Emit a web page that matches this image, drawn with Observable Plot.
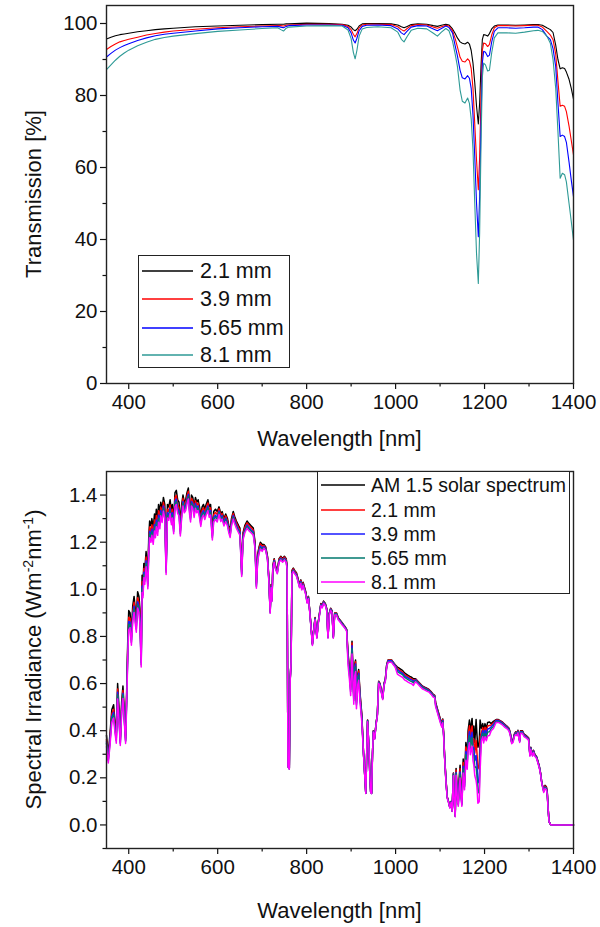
<!DOCTYPE html>
<html><head><meta charset="utf-8">
<script src="https://cdn.jsdelivr.net/npm/d3@7"></script>
<script src="https://cdn.jsdelivr.net/npm/@observablehq/plot@0.6"></script>
<style>
body{margin:0;background:#fff;}
#wrap{position:relative;width:600px;height:927px;font-family:"Liberation Sans",Arial,sans-serif;color:#111;overflow:hidden;}
#top,#bot{position:absolute;left:0;}
#top{top:0;}
#bot{top:455px;}
.legend{position:absolute;background:#fff;border:1px solid #222;box-sizing:border-box;}
.row{position:absolute;left:0;height:26px;display:flex;align-items:center;white-space:nowrap;}
.row svg{display:block;}
</style></head>
<body><div id="wrap"><div id="top"></div><div id="bot"></div></div>
<script>
// ---------- Top panel: transmission [%] ----------
const topLabels = ["2.1 mm", "3.9 mm", "5.65 mm", "8.1 mm"];
const topColors = ["#000000", "#ff0000", "#0000ff", "#2e9a96"];
const transWl = [350,360,370,380,390,400,420,440,460,480,
500,550,600,650,700,735,742,748,754,760,
800,850,880,893,900,905,909,913,918,925,
935,960,990,1005,1013,1019,1026,1035,1050,1070,
1085,1094,1103,1113,1120,1128,1134,1139,1145,1150,
1156,1162,1166,1170,1174,1178,1182,1186,1189,1192,
1195,1198,1202,1207,1211,1216,1222,1230,1250,1270,
1290,1310,1320,1330,1340,1348,1354,1360,1365,1370,
1375,1380,1384,1390,1395,1400];
const t21 = [95.7,96.2,96.6,96.9,97.1,97.3,97.7,98.0,98.3,98.5,
98.7,99.1,99.3,99.5,99.7,99.8,99.8,99.8,99.9,99.9,
100.1,100.0,99.8,99.5,99.0,98.3,98.0,98.4,99.3,99.9,
100.0,100.0,99.9,99.6,99.1,98.8,99.2,99.7,99.9,99.8,
99.4,99.2,99.5,99.8,99.6,98.5,97.2,96.0,94.9,94.5,
94.3,94.8,94.3,92.5,89.0,83.5,77.0,72.1,78.0,88.0,
95.5,96.9,96.8,96.5,97.2,98.5,99.3,99.6,99.6,99.5,
99.6,99.7,99.7,99.5,98.8,98.3,97.5,94.0,90.0,87.4,
87.7,87.5,86.5,84.5,82.0,79.0];
const t39 = [92.8,93.6,94.3,94.9,95.3,95.6,96.2,96.8,97.2,97.6,
97.9,98.4,98.8,99.1,99.3,99.4,99.4,99.3,99.5,99.6,
99.8,99.8,99.7,99.2,98.3,97.0,96.3,97.2,98.8,99.6,
99.8,99.8,99.7,99.1,98.3,97.9,98.6,99.4,99.7,99.6,
99.0,98.7,99.1,99.5,99.3,98.0,95.8,93.5,90.6,89.5,
89.3,90.2,89.6,87.5,82.0,72.0,62.0,53.8,63.0,80.0,
92.5,94.6,94.4,93.6,94.2,96.8,98.8,99.4,99.4,99.3,
99.4,99.5,99.5,99.0,97.8,96.8,95.5,91.5,84.0,77.0,
77.3,77.0,75.5,71.5,67.5,63.5];
const t565 = [90.7,91.7,92.6,93.3,93.9,94.4,95.3,96.0,96.6,97.0,
97.3,97.9,98.5,98.8,99.1,99.2,99.0,98.8,99.2,99.4,
99.6,99.6,99.5,98.8,97.4,95.4,94.6,95.9,98.0,99.2,
99.5,99.6,99.4,98.5,97.4,96.9,97.9,99.0,99.4,99.3,
98.5,98.0,98.6,99.3,98.9,97.4,93.8,91.0,87.0,84.9,
84.6,85.5,84.8,82.0,74.5,63.0,50.0,40.8,52.0,72.0,
89.0,92.3,92.0,90.8,91.2,94.8,97.8,98.8,98.8,98.7,
98.8,99.0,99.0,98.3,96.5,95.5,93.0,88.0,78.0,68.6,
69.0,68.6,67.0,61.5,56.5,51.9];
const t81 = [87.2,88.5,89.8,90.9,91.8,92.6,93.8,94.8,95.6,96.1,
96.5,97.2,97.8,98.2,98.6,98.8,98.3,97.9,98.7,99.0,
99.3,99.4,99.3,98.2,95.8,92.0,90.2,92.5,96.5,98.5,
98.9,99.1,98.8,97.6,95.6,94.9,96.4,98.1,98.7,98.5,
97.3,96.5,97.6,98.6,98.0,95.1,91.5,88.1,81.5,78.4,
77.9,79.3,77.8,73.5,65.0,50.0,36.0,27.8,42.0,66.0,
85.0,89.0,88.5,86.8,87.0,91.8,96.0,97.4,97.4,97.3,
97.6,98.0,98.1,97.8,96.5,94.5,90.0,82.0,70.0,57.0,
58.4,58.0,56.0,50.0,45.0,39.8];
const topXTicks = [400,600,800,1000,1200,1400];
const topXMinor = [500,700,900,1100,1300];
const topYTicks = [0,20,40,60,80,100];
const topYMinor = [10,30,50,70,90];

// ---------- Bottom panel: spectral irradiance ----------
const botLabels = ["AM 1.5 solar spectrum", "2.1 mm", "3.9 mm", "5.65 mm", "8.1 mm"];
const botColors = ["#000000", "#ff0000", "#1a1aff", "#00786e", "#ff00ff"];
const irrWl = [350,354,358,362,366,369,372,375,378,381,
384,387,390,393,396,398,400,403,406,409,
412,414,417,420,423,425,428,430,432,434,
436,439,441,443,445,447,450,452,455,458,
460,462,465,467,470,472,475,478,481,484,
487,490,493,496,498,501,504,507,510,513,
516,519,522,525,528,531,534,537,539,541,
544,547,550,553,556,559,562,565,568,571,
574,578,581,584,588,591,595,599,603,607,
610,614,618,622,625,628,631,635,638,642,
647,650,654,657,661,666,670,675,680,684,
687,690,693,696,700,704,708,712,715,718,
720,722,724,727,730,734,738,742,746,750,
754,756,758,761,763,765,767,770,773,777,
780,784,787,789,792,795,798,801,804,807,
810,813,816,819,823,826,829,832,835,838,
842,845,848,851,854,857,860,863,867,871,
875,879,883,887,890,893,896,899,902,904,
906,908,910,912,915,917,920,924,928,931,
933,935,937,940,942,944,946,948,950,953,
956,959,962,965,968,971,974,977,980,983,
987,991,995,999,1004,1008,1012,1016,1020,1024,
1028,1032,1036,1040,1045,1050,1055,1060,1065,1070,
1075,1080,1084,1088,1090,1093,1096,1099,1102,1104,
1106,1108,1110,1113,1116,1119,1122,1125,1127,1130,
1132,1134,1136,1139,1141,1143,1145,1147,1149,1152,
1155,1158,1161,1163,1166,1168,1170,1172,1174,1176,
1178,1181,1183,1185,1188,1190,1193,1196,1198,1201,
1204,1207,1211,1215,1220,1226,1231,1236,1241,1246,
1250,1255,1258,1261,1264,1267,1270,1273,1275,1279,
1281,1285,1289,1293,1296,1299,1302,1304,1306,1308,
1310,1313,1317,1320,1323,1326,1328,1330,1333,1336,
1339,1341,1343,1345,1348,1350,1400];
const am15 = [.38,.30,.39,.49,.51,.44,.39,.60,.50,.37,
.52,.59,.48,.38,.62,.80,.91,.90,.82,.93,
.97,.93,.88,.99,.97,.92,.72,1.06,1.02,1.11,
1.08,1.16,1.12,1.06,1.22,1.29,1.27,1.30,1.26,1.32,
1.29,1.34,1.30,1.36,1.33,1.37,1.34,1.39,1.36,1.11,
1.36,1.35,1.38,1.33,1.36,1.29,1.41,1.42,1.38,1.37,
1.28,1.36,1.40,1.37,1.38,1.41,1.43,1.36,1.33,1.40,
1.39,1.35,1.39,1.37,1.38,1.35,1.31,1.35,1.36,1.34,
1.36,1.38,1.35,1.36,1.25,1.33,1.34,1.33,1.35,1.32,
1.33,1.30,1.32,1.30,1.27,1.25,1.30,1.33,1.31,1.29,
1.27,1.26,1.08,1.24,1.27,1.29,1.28,1.27,1.26,1.20,
1.03,1.15,1.18,1.20,1.19,1.19,1.18,1.14,1.05,.91,
1.02,.96,1.10,1.13,1.10,1.08,1.13,1.14,1.13,1.14,
1.13,1.10,.25,.24,.62,.70,1.08,1.09,1.08,1.07,
1.05,1.02,1.04,1.01,1.03,1.01,.99,.95,.97,.91,
.84,.77,.83,.88,.80,.86,.90,.94,.93,.95,
.94,.92,.80,.90,.92,.91,.80,.90,.90,.88,
.87,.86,.85,.84,.83,.73,.67,.59,.78,.66,
.55,.68,.70,.53,.64,.66,.56,.47,.30,.20,
.135,.30,.445,.33,.22,.14,.135,.30,.40,.37,
.43,.47,.61,.60,.57,.54,.60,.62,.68,.70,
.70,.70,.69,.68,.67,.665,.66,.655,.645,.64,
.635,.63,.627,.62,.62,.61,.60,.59,.585,.58,
.575,.565,.555,.55,.52,.50,.48,.46,.44,.43,
.45,.39,.30,.20,.12,.10,.076,.10,.06,.22,
.10,.04,.24,.12,.10,.20,.253,.15,.10,.28,
.19,.35,.30,.40,.445,.38,.43,.452,.37,.42,
.35,.447,.38,.33,.35,.445,.41,.43,.40,.43,
.41,.435,.437,.43,.44,.447,.447,.442,.435,.426,
.42,.41,.39,.355,.36,.385,.395,.39,.402,.36,
.40,.40,.385,.38,.375,.37,.30,.33,.31,.30,
.317,.30,.29,.27,.25,.22,.19,.17,.15,.168,
.162,.14,.07,.015,.003,0,0];
const irr21 = [.363,.287,.373,.471,.491,.423,.375,.577,.481,.358,
.503,.571,.465,.368,.600,.774,.881,.877,.799,.906,
.945,.906,.857,.964,.945,.896,.701,1.032,1.000,1.088,
1.058,1.137,1.098,1.039,1.196,1.264,1.245,1.274,1.235,1.294,
1.264,1.313,1.274,1.333,1.303,1.349,1.320,1.369,1.340,1.093,
1.340,1.330,1.359,1.310,1.340,1.271,1.389,1.399,1.359,1.349,
1.261,1.340,1.386,1.356,1.366,1.396,1.416,1.346,1.317,1.386,
1.376,1.337,1.376,1.356,1.366,1.337,1.297,1.337,1.346,1.327,
1.346,1.366,1.337,1.346,1.238,1.317,1.327,1.317,1.342,1.312,
1.322,1.292,1.312,1.292,1.262,1.243,1.292,1.322,1.302,1.282,
1.262,1.252,1.074,1.233,1.262,1.282,1.272,1.262,1.252,1.193,
1.024,1.143,1.173,1.193,1.183,1.186,1.176,1.137,1.047,.907,
1.017,.957,1.097,1.127,1.097,1.077,1.127,1.137,1.127,1.137,
1.127,1.097,.249,.239,.618,.698,1.077,1.087,1.077,1.067,
1.047,1.017,1.037,1.007,1.027,1.007,.987,.948,.968,.908,
.838,.768,.828,.878,.798,.858,.898,.938,.928,.948,
.938,.918,.798,.898,.918,.908,.798,.898,.898,.878,
.868,.858,.848,.838,.828,.723,.663,.584,.772,.653,
.545,.673,.693,.525,.634,.653,.554,.465,.299,.200,
.135,.299,.444,.329,.220,.140,.135,.299,.399,.369,
.429,.469,.609,.599,.569,.539,.599,.619,.679,.699,
.699,.699,.689,.679,.663,.658,.653,.648,.639,.634,
.629,.624,.621,.614,.618,.608,.598,.588,.583,.578,
.573,.563,.553,.548,.517,.497,.477,.457,.437,.427,
.447,.388,.298,.198,.119,.099,.075,.099,.059,.218,
.097,.039,.233,.116,.095,.189,.239,.142,.095,.265,
.180,.331,.284,.378,.421,.359,.400,.420,.344,.365,
.305,.358,.304,.238,.252,.374,.394,.413,.384,.415,
.396,.420,.422,.424,.433,.445,.445,.440,.433,.424,
.418,.408,.388,.353,.358,.383,.393,.388,.400,.358,
.398,.398,.383,.378,.373,.368,.299,.328,.308,.299,
.315,.299,.289,.269,.249,.219,.189,.169,.148,.165,
.160,.138,.069,.015,.003,0,0];
const irr39 = [.353,.279,.363,.460,.478,.413,.366,.563,.469,.351,
.493,.559,.455,.360,.588,.758,.863,.861,.785,.890,
.928,.890,.842,.947,.928,.880,.689,1.014,.985,1.072,
1.043,1.121,1.082,1.024,1.179,1.246,1.227,1.256,1.217,1.275,
1.246,1.294,1.256,1.314,1.285,1.334,1.305,1.354,1.325,1.081,
1.325,1.315,1.344,1.295,1.325,1.256,1.373,1.383,1.344,1.334,
1.247,1.325,1.373,1.344,1.354,1.383,1.403,1.334,1.305,1.373,
1.364,1.324,1.364,1.344,1.354,1.324,1.285,1.324,1.334,1.315,
1.334,1.354,1.324,1.334,1.226,1.305,1.315,1.305,1.332,1.303,
1.313,1.283,1.303,1.283,1.253,1.234,1.283,1.313,1.293,1.273,
1.253,1.244,1.066,1.224,1.253,1.273,1.263,1.253,1.244,1.184,
1.017,1.135,1.165,1.184,1.175,1.182,1.172,1.132,1.043,.904,
1.013,.953,1.092,1.122,1.092,1.072,1.122,1.132,1.122,1.132,
1.122,1.092,.248,.238,.616,.695,1.072,1.082,1.072,1.063,
1.043,1.013,1.033,1.003,1.023,1.003,.983,.946,.966,.906,
.837,.767,.827,.876,.797,.857,.896,.936,.926,.946,
.936,.916,.797,.896,.916,.906,.797,.896,.896,.876,
.867,.857,.847,.837,.827,.712,.653,.575,.761,.644,
.536,.663,.683,.517,.624,.644,.546,.458,.299,.199,
.134,.299,.443,.328,.219,.139,.134,.299,.398,.368,
.428,.468,.607,.597,.567,.537,.597,.617,.677,.697,
.697,.697,.687,.677,.658,.653,.648,.643,.633,.628,
.624,.619,.616,.609,.616,.606,.596,.586,.581,.576,
.571,.561,.551,.546,.512,.493,.473,.453,.433,.424,
.443,.384,.296,.196,.118,.098,.074,.098,.059,.216,
.093,.037,.223,.112,.089,.178,.225,.134,.089,.249,
.169,.312,.267,.356,.396,.338,.374,.393,.322,.328,
.273,.295,.251,.178,.189,.320,.381,.400,.372,.402,
.383,.407,.409,.417,.427,.443,.443,.438,.431,.422,
.416,.406,.386,.351,.356,.381,.391,.386,.398,.356,
.396,.396,.381,.376,.371,.366,.297,.327,.307,.297,
.314,.297,.287,.267,.248,.218,.188,.168,.144,.161,
.156,.134,.067,.014,.003,0,0];
const irr565 = [.346,.273,.355,.451,.469,.405,.359,.552,.460,.346,
.486,.552,.449,.355,.580,.748,.851,.851,.775,.879,
.917,.879,.832,.936,.917,.869,.680,1.002,.976,1.062,
1.034,1.110,1.072,1.014,1.168,1.235,1.215,1.244,1.206,1.263,
1.235,1.282,1.244,1.302,1.273,1.323,1.294,1.343,1.314,1.072,
1.314,1.304,1.333,1.285,1.314,1.246,1.362,1.372,1.333,1.323,
1.236,1.314,1.365,1.336,1.346,1.375,1.394,1.326,1.297,1.365,
1.355,1.316,1.355,1.336,1.346,1.316,1.277,1.316,1.326,1.307,
1.326,1.346,1.316,1.326,1.219,1.297,1.307,1.297,1.326,1.296,
1.306,1.277,1.296,1.277,1.247,1.228,1.277,1.306,1.286,1.267,
1.247,1.237,1.061,1.218,1.247,1.267,1.257,1.247,1.237,1.178,
1.011,1.129,1.159,1.178,1.169,1.178,1.168,1.129,1.040,.901,
1.010,.950,1.089,1.119,1.089,1.069,1.119,1.129,1.119,1.129,
1.119,1.089,.248,.238,.614,.693,1.069,1.079,1.069,1.059,
1.040,1.010,1.030,1.000,1.020,1.000,.980,.944,.964,.905,
.835,.765,.825,.875,.795,.855,.895,.934,.924,.944,
.934,.914,.795,.895,.914,.905,.795,.895,.895,.875,
.865,.855,.845,.835,.825,.701,.643,.566,.749,.634,
.528,.653,.672,.509,.614,.634,.538,.451,.297,.198,
.134,.297,.441,.327,.218,.139,.134,.297,.396,.366,
.426,.465,.604,.594,.564,.535,.594,.614,.673,.693,
.693,.693,.683,.673,.651,.646,.642,.637,.627,.622,
.617,.612,.609,.603,.613,.603,.593,.583,.578,.573,
.568,.558,.548,.543,.507,.488,.468,.449,.429,.419,
.439,.380,.293,.194,.116,.097,.074,.097,.058,.213,
.091,.036,.218,.109,.085,.170,.215,.128,.085,.238,
.162,.298,.255,.340,.378,.323,.353,.371,.303,.294,
.245,.246,.209,.135,.144,.276,.371,.389,.362,.389,
.371,.394,.395,.409,.418,.439,.439,.434,.427,.418,
.412,.403,.383,.349,.354,.378,.388,.383,.395,.354,
.393,.393,.378,.373,.368,.363,.295,.324,.304,.295,
.311,.295,.285,.265,.246,.216,.187,.167,.142,.159,
.153,.132,.066,.014,.003,0,0];
const irr81 = [.333,.263,.341,.436,.454,.392,.347,.534,.445,.337,
.473,.537,.437,.346,.564,.728,.828,.837,.763,.865,
.902,.865,.818,.921,.902,.856,.670,.986,.964,1.049,
1.021,1.096,1.058,1.002,1.153,1.219,1.200,1.229,1.191,1.247,
1.219,1.266,1.229,1.285,1.257,1.312,1.284,1.332,1.303,1.063,
1.303,1.293,1.322,1.274,1.303,1.236,1.351,1.360,1.322,1.312,
1.226,1.303,1.354,1.325,1.334,1.363,1.383,1.315,1.286,1.354,
1.344,1.305,1.344,1.325,1.334,1.305,1.267,1.305,1.315,1.296,
1.315,1.334,1.305,1.315,1.209,1.286,1.296,1.286,1.318,1.288,
1.298,1.269,1.288,1.269,1.240,1.220,1.269,1.298,1.279,1.259,
1.240,1.230,1.054,1.210,1.240,1.259,1.249,1.240,1.230,1.171,
1.005,1.122,1.152,1.171,1.161,1.175,1.165,1.125,1.036,.898,
1.007,.948,1.086,1.115,1.086,1.066,1.115,1.125,1.115,1.125,
1.115,1.086,.247,.237,.612,.691,1.066,1.076,1.066,1.056,
1.036,1.007,1.026,.997,1.017,.997,.977,.941,.960,.901,
.832,.762,.822,.871,.792,.851,.891,.931,.921,.941,
.931,.911,.792,.891,.911,.901,.792,.891,.891,.871,
.861,.851,.842,.832,.822,.679,.623,.549,.725,.614,
.512,.632,.651,.493,.595,.614,.521,.437,.296,.197,
.133,.296,.438,.325,.217,.138,.133,.296,.394,.364,
.424,.463,.601,.591,.561,.532,.591,.611,.670,.690,
.690,.690,.680,.670,.640,.635,.630,.626,.616,.611,
.606,.602,.599,.592,.608,.598,.588,.578,.573,.568,
.564,.554,.544,.539,.502,.483,.463,.444,.425,.415,
.434,.376,.290,.190,.114,.095,.072,.095,.057,.209,
.088,.035,.211,.106,.079,.157,.199,.118,.079,.220,
.149,.275,.236,.314,.349,.298,.318,.334,.274,.252,
.210,.188,.160,.092,.098,.231,.357,.374,.348,.374,
.357,.378,.380,.400,.409,.435,.435,.430,.423,.414,
.409,.399,.379,.345,.350,.375,.384,.379,.391,.350,
.389,.389,.375,.370,.365,.360,.292,.321,.302,.292,
.308,.292,.282,.263,.243,.214,.185,.165,.138,.155,
.149,.129,.064,.014,.003,0,0];
const botXTicks = [400,600,800,1000,1200,1400];
const botXMinor = [500,700,900,1100,1300];
const botYTicks = [0,0.2,0.4,0.6,0.8,1.0,1.2,1.4];
const botYMinor = [-0.1,0.1,0.3,0.5,0.7,0.9,1.1,1.3];

// ---------- build tables ----------
const topSeries = [t21, t39, t565, t81];
const topRows = [];
topLabels.forEach((lab, j) => transWl.forEach((w, i) => topRows.push({wl: w, v: topSeries[j][i], s: lab})));
const botSeries = [am15, irr21, irr39, irr565, irr81];
const botRows = [];
botLabels.forEach((lab, j) => irrWl.forEach((w, i) => botRows.push({wl: w, v: botSeries[j][i], s: lab})));

const FONT = '"Liberation Sans", Arial, sans-serif';
const TICKFS = 20.5, TITLEFS = 22;
const baseStyle = {fontFamily: FONT, fontSize: TICKFS + "px", color: "#111", background: "white", overflow: "visible"};
const intFmt = d3.format("d");

function axes(xT, xM, yT, yM, yFmt) {
  return [
    Plot.axisX(xT, {anchor: "bottom", tickSize: 6, tickPadding: 5, fontSize: TICKFS, label: null, tickFormat: intFmt, strokeWidth: 1.2}),
    Plot.axisX(xM, {anchor: "bottom", tickSize: 3.5, tickFormat: () => "", label: null, strokeWidth: 1.2}),
    Plot.axisY(yT, {anchor: "left", tickSize: 6, tickPadding: 3, fontSize: TICKFS, label: null, tickFormat: yFmt, strokeWidth: 1.2}),
    Plot.axisY(yM, {anchor: "left", tickSize: 3.5, tickFormat: () => "", label: null, strokeWidth: 1.2}),
    Plot.frame({stroke: "#222", strokeWidth: 1.4})
  ];
}

const topPlot = Plot.plot({
  width: 600, height: 455,
  marginLeft: 106, marginRight: 27, marginTop: 5, marginBottom: 72,
  x: {domain: [350, 1400]},
  y: {domain: [0, 105]},
  color: {domain: topLabels, range: topColors},
  style: baseStyle,
  marks: [
    Plot.line(topRows, {x: "wl", y: "v", z: "s", stroke: "s", strokeWidth: 1.1}),
    ...axes(topXTicks, topXMinor, topYTicks, topYMinor, intFmt)
  ]
});
document.getElementById("top").appendChild(topPlot);

const botPlot = Plot.plot({
  width: 600, height: 472,
  marginLeft: 106, marginRight: 27, marginTop: 16, marginBottom: 79,
  x: {domain: [350, 1400]},
  y: {domain: [-0.1, 1.5]},
  color: {domain: botLabels, range: botColors},
  style: baseStyle,
  marks: [
    Plot.line(botRows, {x: "wl", y: "v", z: "s", stroke: "s", strokeWidth: 1.5}),
    ...axes(botXTicks, botXMinor, botYTicks, botYMinor, d3.format(".1f"))
  ]
});
document.getElementById("bot").appendChild(botPlot);

// ---------- axis titles ----------
function addTitles(svgEl, xCenterY, yCenterY, yParts) {
  const svg = d3.select(svgEl);
  svg.append("text").attr("x", 339.5).attr("y", xCenterY + 8).attr("text-anchor", "middle")
    .attr("font-family", FONT).attr("font-size", TITLEFS).attr("fill", "#111").text("Wavelength [nm]");
  const t = svg.append("text").attr("transform", `translate(41,${yCenterY}) rotate(-90)`)
    .attr("text-anchor", "middle").attr("font-family", FONT).attr("font-size", TITLEFS).attr("fill", "#111");
  yParts.forEach(p => {
    const ts = t.append("tspan").text(p.t);
    if (p.sup) ts.attr("baseline-shift", "super").attr("font-size", 14);
  });
}
addTitles(topPlot, 438, 194, [{t: "Transmission [%]"}]);
addTitles(botPlot, 455, 204.5, [{t: "Spectral Irradiance (Wm"}, {t: "-2", sup: true}, {t: "nm"}, {t: "-1", sup: true}, {t: ")"}]);

// ---------- legends ----------
function legend(left, top, w, h, labels, colors, rowCenters, lineW, textGap, fs) {
  const box = document.createElement("div");
  box.className = "legend";
  Object.assign(box.style, {left: left + "px", top: top + "px", width: w + "px", height: h + "px"});
  labels.forEach((lab, i) => {
    const row = document.createElement("div");
    row.className = "row";
    row.style.top = (rowCenters[i] - 13) + "px";
    row.style.left = "2px";
    row.innerHTML = `<svg width="${lineW + 2}" height="4"><line x1="1" x2="${lineW + 1}" y1="2" y2="2" stroke="${colors[i]}" stroke-width="1.3"/></svg>` +
      `<span style="margin-left:${textGap}px;font-size:${fs}px;line-height:26px;">${lab}</span>`;
    box.appendChild(row);
  });
  document.getElementById("wrap").appendChild(box);
}
legend(138, 255, 152, 113, topLabels, topColors, [15, 43, 72, 99], 51, 6, 21.5);
legend(317, 471, 253, 123, botLabels, botColors, [13, 38, 62, 86, 110], 44, 5, 19.5);
</script>
</body></html>
